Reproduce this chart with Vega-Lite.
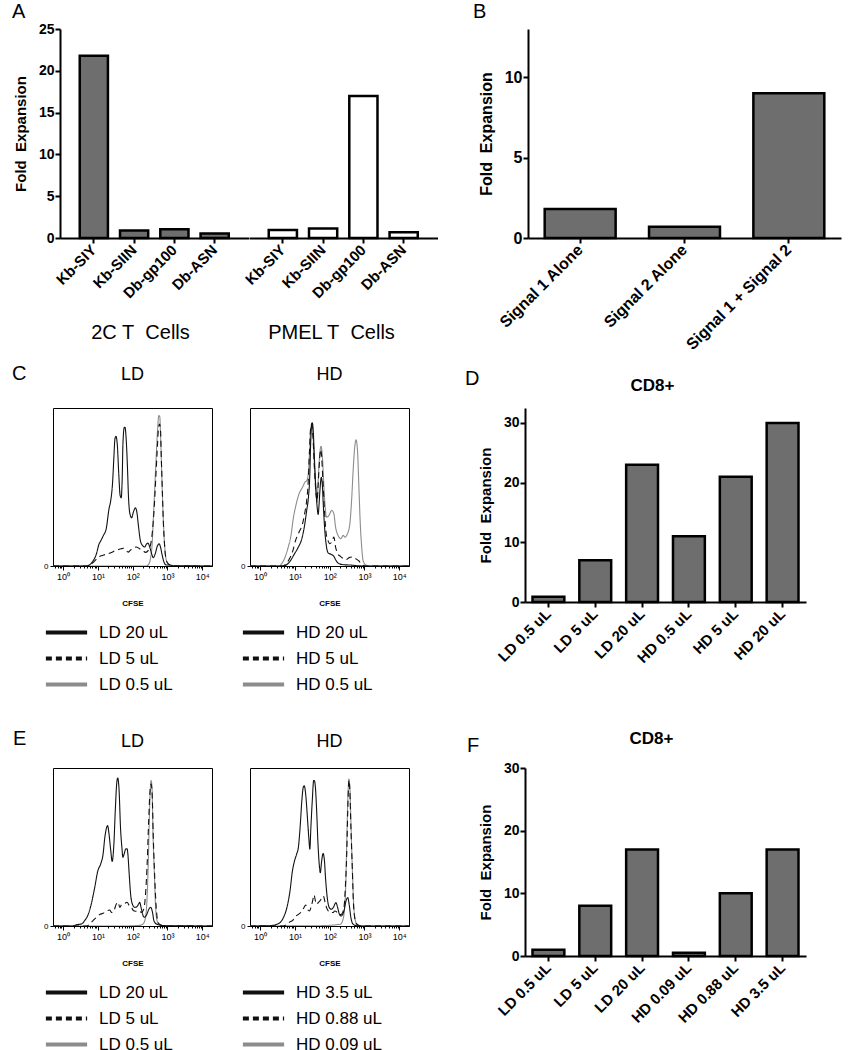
{
  "$schema": "https://vega.github.io/schema/vega-lite/v6.json",
  "background": "white",
  "padding": {"left": 12, "top": 2, "right": 2, "bottom": 2},
  "spacing": 11,
  "config": {
    "font": "Liberation Sans",
    "view": {"stroke": null},
    "axis": {"grid": false, "domainColor": "black", "tickColor": "black", "labelColor": "black", "titleColor": "black", "labelFont": "Liberation Sans", "titleFont": "Liberation Sans"},
    "title": {"color": "black", "font": "Liberation Sans"},
    "legend": {"labelColor": "black", "labelFont": "Liberation Sans", "symbolType": "M-10,0H10", "symbolSize": 17, "symbolStrokeWidth": 4, "labelFontSize": 17, "labelOffset": 24, "rowPadding": 8, "padding": 0, "labelLimit": 300}
  },
  "resolve": {"scale": {"x": "independent", "y": "independent", "color": "independent", "strokeDash": "independent"}, "legend": {"color": "independent", "strokeDash": "independent"}},
  "datasets": {
    "A": [
      {"group": "2C", "peptide": "Kb-SIY", "fold": 21.8},
      {"group": "2C", "peptide": "Kb-SIIN", "fold": 0.9},
      {"group": "2C", "peptide": "Db-gp100", "fold": 1.05},
      {"group": "2C", "peptide": "Db-ASN", "fold": 0.55},
      {"group": "PMEL", "peptide": "Kb-SIY", "fold": 0.95},
      {"group": "PMEL", "peptide": "Kb-SIIN", "fold": 1.15},
      {"group": "PMEL", "peptide": "Db-gp100", "fold": 17.0},
      {"group": "PMEL", "peptide": "Db-ASN", "fold": 0.7}
    ],
    "B": [
      {"condition": "Signal 1 Alone", "fold": 1.8},
      {"condition": "Signal 2 Alone", "fold": 0.7},
      {"condition": "Signal 1 + Signal 2", "fold": 9.0}
    ],
    "D": [
      {"dose": "LD 0.5 uL", "fold": 0.9},
      {"dose": "LD 5 uL", "fold": 7},
      {"dose": "LD 20 uL", "fold": 23},
      {"dose": "HD 0.5 uL", "fold": 11},
      {"dose": "HD 5 uL", "fold": 21},
      {"dose": "HD 20 uL", "fold": 30}
    ],
    "F": [
      {"dose": "LD 0.5 uL", "fold": 1},
      {"dose": "LD 5 uL", "fold": 8},
      {"dose": "LD 20 uL", "fold": 17},
      {"dose": "HD 0.09 uL", "fold": 0.5},
      {"dose": "HD 0.88 uL", "fold": 10},
      {"dose": "HD 3.5 uL", "fold": 17}
    ],
    "cLD": [
      {"sample": "LD 0.5 uL", "logCFSE": -0.29, "pctMax": 0},
      {"sample": "LD 0.5 uL", "logCFSE": 2.37, "pctMax": 0},
      {"sample": "LD 0.5 uL", "logCFSE": 2.45, "pctMax": 0.8},
      {"sample": "LD 0.5 uL", "logCFSE": 2.51, "pctMax": 4.6},
      {"sample": "LD 0.5 uL", "logCFSE": 2.56, "pctMax": 14.1},
      {"sample": "LD 0.5 uL", "logCFSE": 2.6, "pctMax": 33.1},
      {"sample": "LD 0.5 uL", "logCFSE": 2.64, "pctMax": 52},
      {"sample": "LD 0.5 uL", "logCFSE": 2.68, "pctMax": 70.9},
      {"sample": "LD 0.5 uL", "logCFSE": 2.72, "pctMax": 87.8},
      {"sample": "LD 0.5 uL", "logCFSE": 2.75, "pctMax": 95.2},
      {"sample": "LD 0.5 uL", "logCFSE": 2.78, "pctMax": 94.5},
      {"sample": "LD 0.5 uL", "logCFSE": 2.8, "pctMax": 83.6},
      {"sample": "LD 0.5 uL", "logCFSE": 2.83, "pctMax": 62.5},
      {"sample": "LD 0.5 uL", "logCFSE": 2.87, "pctMax": 35.2},
      {"sample": "LD 0.5 uL", "logCFSE": 2.91, "pctMax": 16.2},
      {"sample": "LD 0.5 uL", "logCFSE": 2.95, "pctMax": 5.7},
      {"sample": "LD 0.5 uL", "logCFSE": 3.0, "pctMax": 1.9},
      {"sample": "LD 0.5 uL", "logCFSE": 3.08, "pctMax": 0.4},
      {"sample": "LD 0.5 uL", "logCFSE": 3.2, "pctMax": 0},
      {"sample": "LD 0.5 uL", "logCFSE": 4.28, "pctMax": 0},
      {"sample": "LD 5 uL", "logCFSE": -0.29, "pctMax": 0},
      {"sample": "LD 5 uL", "logCFSE": 0.75, "pctMax": 0},
      {"sample": "LD 5 uL", "logCFSE": 0.81, "pctMax": 1.1},
      {"sample": "LD 5 uL", "logCFSE": 0.91, "pctMax": 3.2},
      {"sample": "LD 5 uL", "logCFSE": 1.0, "pctMax": 5.3},
      {"sample": "LD 5 uL", "logCFSE": 1.1, "pctMax": 6.5},
      {"sample": "LD 5 uL", "logCFSE": 1.2, "pctMax": 7.2},
      {"sample": "LD 5 uL", "logCFSE": 1.29, "pctMax": 7.8},
      {"sample": "LD 5 uL", "logCFSE": 1.39, "pctMax": 8.6},
      {"sample": "LD 5 uL", "logCFSE": 1.48, "pctMax": 9.5},
      {"sample": "LD 5 uL", "logCFSE": 1.58, "pctMax": 10.3},
      {"sample": "LD 5 uL", "logCFSE": 1.67, "pctMax": 10.9},
      {"sample": "LD 5 uL", "logCFSE": 1.74, "pctMax": 11.2},
      {"sample": "LD 5 uL", "logCFSE": 1.8, "pctMax": 10.3},
      {"sample": "LD 5 uL", "logCFSE": 1.87, "pctMax": 8.8},
      {"sample": "LD 5 uL", "logCFSE": 1.93, "pctMax": 9.9},
      {"sample": "LD 5 uL", "logCFSE": 2.01, "pctMax": 11.2},
      {"sample": "LD 5 uL", "logCFSE": 2.1, "pctMax": 12.0},
      {"sample": "LD 5 uL", "logCFSE": 2.2, "pctMax": 10.9},
      {"sample": "LD 5 uL", "logCFSE": 2.3, "pctMax": 9.5},
      {"sample": "LD 5 uL", "logCFSE": 2.37, "pctMax": 8.6},
      {"sample": "LD 5 uL", "logCFSE": 2.45, "pctMax": 9.9},
      {"sample": "LD 5 uL", "logCFSE": 2.52, "pctMax": 14.1},
      {"sample": "LD 5 uL", "logCFSE": 2.57, "pctMax": 22.5},
      {"sample": "LD 5 uL", "logCFSE": 2.62, "pctMax": 37.3},
      {"sample": "LD 5 uL", "logCFSE": 2.67, "pctMax": 58.3},
      {"sample": "LD 5 uL", "logCFSE": 2.71, "pctMax": 75.2},
      {"sample": "LD 5 uL", "logCFSE": 2.74, "pctMax": 86.7},
      {"sample": "LD 5 uL", "logCFSE": 2.77, "pctMax": 89.9},
      {"sample": "LD 5 uL", "logCFSE": 2.8, "pctMax": 86.7},
      {"sample": "LD 5 uL", "logCFSE": 2.82, "pctMax": 70.9},
      {"sample": "LD 5 uL", "logCFSE": 2.85, "pctMax": 49.9},
      {"sample": "LD 5 uL", "logCFSE": 2.88, "pctMax": 28.8},
      {"sample": "LD 5 uL", "logCFSE": 2.92, "pctMax": 12.0},
      {"sample": "LD 5 uL", "logCFSE": 2.96, "pctMax": 4.0},
      {"sample": "LD 5 uL", "logCFSE": 3.02, "pctMax": 1.5},
      {"sample": "LD 5 uL", "logCFSE": 3.11, "pctMax": 0.4},
      {"sample": "LD 5 uL", "logCFSE": 3.25, "pctMax": 0},
      {"sample": "LD 5 uL", "logCFSE": 4.28, "pctMax": 0},
      {"sample": "LD 20 uL", "logCFSE": -0.29, "pctMax": 0},
      {"sample": "LD 20 uL", "logCFSE": 0.67, "pctMax": 0},
      {"sample": "LD 20 uL", "logCFSE": 0.75, "pctMax": 0.6},
      {"sample": "LD 20 uL", "logCFSE": 0.86, "pctMax": 3.2},
      {"sample": "LD 20 uL", "logCFSE": 0.96, "pctMax": 7.8},
      {"sample": "LD 20 uL", "logCFSE": 1.03, "pctMax": 13.7},
      {"sample": "LD 20 uL", "logCFSE": 1.08, "pctMax": 15.8},
      {"sample": "LD 20 uL", "logCFSE": 1.16, "pctMax": 19.4},
      {"sample": "LD 20 uL", "logCFSE": 1.24, "pctMax": 23.6},
      {"sample": "LD 20 uL", "logCFSE": 1.32, "pctMax": 36.2},
      {"sample": "LD 20 uL", "logCFSE": 1.37, "pctMax": 41.5},
      {"sample": "LD 20 uL", "logCFSE": 1.42, "pctMax": 52},
      {"sample": "LD 20 uL", "logCFSE": 1.46, "pctMax": 68.8},
      {"sample": "LD 20 uL", "logCFSE": 1.49, "pctMax": 80.4},
      {"sample": "LD 20 uL", "logCFSE": 1.52, "pctMax": 82.1},
      {"sample": "LD 20 uL", "logCFSE": 1.56, "pctMax": 76.2},
      {"sample": "LD 20 uL", "logCFSE": 1.6, "pctMax": 58.3},
      {"sample": "LD 20 uL", "logCFSE": 1.64, "pctMax": 44.6},
      {"sample": "LD 20 uL", "logCFSE": 1.67, "pctMax": 43.2},
      {"sample": "LD 20 uL", "logCFSE": 1.7, "pctMax": 56.2},
      {"sample": "LD 20 uL", "logCFSE": 1.72, "pctMax": 77.3},
      {"sample": "LD 20 uL", "logCFSE": 1.76, "pctMax": 87.8},
      {"sample": "LD 20 uL", "logCFSE": 1.78, "pctMax": 87.8},
      {"sample": "LD 20 uL", "logCFSE": 1.81, "pctMax": 81.5},
      {"sample": "LD 20 uL", "logCFSE": 1.85, "pctMax": 62.5},
      {"sample": "LD 20 uL", "logCFSE": 1.88, "pctMax": 43.6},
      {"sample": "LD 20 uL", "logCFSE": 1.92, "pctMax": 33.1},
      {"sample": "LD 20 uL", "logCFSE": 1.97, "pctMax": 30.5},
      {"sample": "LD 20 uL", "logCFSE": 2.02, "pctMax": 34.1},
      {"sample": "LD 20 uL", "logCFSE": 2.08, "pctMax": 36.8},
      {"sample": "LD 20 uL", "logCFSE": 2.12, "pctMax": 34.1},
      {"sample": "LD 20 uL", "logCFSE": 2.17, "pctMax": 24.6},
      {"sample": "LD 20 uL", "logCFSE": 2.22, "pctMax": 16.2},
      {"sample": "LD 20 uL", "logCFSE": 2.28, "pctMax": 13.1},
      {"sample": "LD 20 uL", "logCFSE": 2.35, "pctMax": 12.0},
      {"sample": "LD 20 uL", "logCFSE": 2.39, "pctMax": 13.7},
      {"sample": "LD 20 uL", "logCFSE": 2.44, "pctMax": 14.5},
      {"sample": "LD 20 uL", "logCFSE": 2.49, "pctMax": 12.0},
      {"sample": "LD 20 uL", "logCFSE": 2.55, "pctMax": 7.4},
      {"sample": "LD 20 uL", "logCFSE": 2.59, "pctMax": 5.3},
      {"sample": "LD 20 uL", "logCFSE": 2.65, "pctMax": 7.8},
      {"sample": "LD 20 uL", "logCFSE": 2.7, "pctMax": 12.0},
      {"sample": "LD 20 uL", "logCFSE": 2.76, "pctMax": 14.1},
      {"sample": "LD 20 uL", "logCFSE": 2.8, "pctMax": 12.0},
      {"sample": "LD 20 uL", "logCFSE": 2.85, "pctMax": 6.7},
      {"sample": "LD 20 uL", "logCFSE": 2.91, "pctMax": 1.9},
      {"sample": "LD 20 uL", "logCFSE": 2.97, "pctMax": 0.6},
      {"sample": "LD 20 uL", "logCFSE": 3.08, "pctMax": 0.6},
      {"sample": "LD 20 uL", "logCFSE": 3.16, "pctMax": 0.2},
      {"sample": "LD 20 uL", "logCFSE": 4.28, "pctMax": 0}
    ],
    "cHD": [
      {"sample": "HD 0.5 uL", "logCFSE": -0.29, "pctMax": 0},
      {"sample": "HD 0.5 uL", "logCFSE": 0.55, "pctMax": 0},
      {"sample": "HD 0.5 uL", "logCFSE": 0.62, "pctMax": 1.5},
      {"sample": "HD 0.5 uL", "logCFSE": 0.72, "pctMax": 5.7},
      {"sample": "HD 0.5 uL", "logCFSE": 0.81, "pctMax": 12.0},
      {"sample": "HD 0.5 uL", "logCFSE": 0.88, "pctMax": 18.3},
      {"sample": "HD 0.5 uL", "logCFSE": 0.96, "pctMax": 30.9},
      {"sample": "HD 0.5 uL", "logCFSE": 1.04, "pctMax": 39.4},
      {"sample": "HD 0.5 uL", "logCFSE": 1.12, "pctMax": 45.7},
      {"sample": "HD 0.5 uL", "logCFSE": 1.22, "pctMax": 49.9},
      {"sample": "HD 0.5 uL", "logCFSE": 1.29, "pctMax": 53.1},
      {"sample": "HD 0.5 uL", "logCFSE": 1.34, "pctMax": 54.1},
      {"sample": "HD 0.5 uL", "logCFSE": 1.38, "pctMax": 57.3},
      {"sample": "HD 0.5 uL", "logCFSE": 1.42, "pctMax": 70.9},
      {"sample": "HD 0.5 uL", "logCFSE": 1.45, "pctMax": 85.7},
      {"sample": "HD 0.5 uL", "logCFSE": 1.49, "pctMax": 90.3},
      {"sample": "HD 0.5 uL", "logCFSE": 1.52, "pctMax": 83.6},
      {"sample": "HD 0.5 uL", "logCFSE": 1.56, "pctMax": 64.6},
      {"sample": "HD 0.5 uL", "logCFSE": 1.6, "pctMax": 49.9},
      {"sample": "HD 0.5 uL", "logCFSE": 1.64, "pctMax": 40.4},
      {"sample": "HD 0.5 uL", "logCFSE": 1.67, "pctMax": 54.1},
      {"sample": "HD 0.5 uL", "logCFSE": 1.71, "pctMax": 69.5},
      {"sample": "HD 0.5 uL", "logCFSE": 1.75, "pctMax": 75.8},
      {"sample": "HD 0.5 uL", "logCFSE": 1.79, "pctMax": 69.5},
      {"sample": "HD 0.5 uL", "logCFSE": 1.83, "pctMax": 52},
      {"sample": "HD 0.5 uL", "logCFSE": 1.87, "pctMax": 37.3},
      {"sample": "HD 0.5 uL", "logCFSE": 1.91, "pctMax": 30.9},
      {"sample": "HD 0.5 uL", "logCFSE": 1.98, "pctMax": 32.0},
      {"sample": "HD 0.5 uL", "logCFSE": 2.06, "pctMax": 35.2},
      {"sample": "HD 0.5 uL", "logCFSE": 2.12, "pctMax": 33.1},
      {"sample": "HD 0.5 uL", "logCFSE": 2.17, "pctMax": 24.6},
      {"sample": "HD 0.5 uL", "logCFSE": 2.24, "pctMax": 19.4},
      {"sample": "HD 0.5 uL", "logCFSE": 2.32, "pctMax": 17.3},
      {"sample": "HD 0.5 uL", "logCFSE": 2.39, "pctMax": 19.4},
      {"sample": "HD 0.5 uL", "logCFSE": 2.44, "pctMax": 18.3},
      {"sample": "HD 0.5 uL", "logCFSE": 2.51, "pctMax": 20.4},
      {"sample": "HD 0.5 uL", "logCFSE": 2.58, "pctMax": 26.7},
      {"sample": "HD 0.5 uL", "logCFSE": 2.63, "pctMax": 41.5},
      {"sample": "HD 0.5 uL", "logCFSE": 2.68, "pctMax": 62.5},
      {"sample": "HD 0.5 uL", "logCFSE": 2.72, "pctMax": 75.2},
      {"sample": "HD 0.5 uL", "logCFSE": 2.76, "pctMax": 79.8},
      {"sample": "HD 0.5 uL", "logCFSE": 2.8, "pctMax": 73.1},
      {"sample": "HD 0.5 uL", "logCFSE": 2.84, "pctMax": 49.9},
      {"sample": "HD 0.5 uL", "logCFSE": 2.88, "pctMax": 26.7},
      {"sample": "HD 0.5 uL", "logCFSE": 2.92, "pctMax": 12.0},
      {"sample": "HD 0.5 uL", "logCFSE": 2.96, "pctMax": 3.6},
      {"sample": "HD 0.5 uL", "logCFSE": 3.03, "pctMax": 0.8},
      {"sample": "HD 0.5 uL", "logCFSE": 3.15, "pctMax": 0},
      {"sample": "HD 0.5 uL", "logCFSE": 4.28, "pctMax": 0},
      {"sample": "HD 5 uL", "logCFSE": -0.29, "pctMax": 0},
      {"sample": "HD 5 uL", "logCFSE": 0.64, "pctMax": 0},
      {"sample": "HD 5 uL", "logCFSE": 0.74, "pctMax": 1.1},
      {"sample": "HD 5 uL", "logCFSE": 0.83, "pctMax": 4.0},
      {"sample": "HD 5 uL", "logCFSE": 0.93, "pctMax": 8.8},
      {"sample": "HD 5 uL", "logCFSE": 1.02, "pctMax": 16.2},
      {"sample": "HD 5 uL", "logCFSE": 1.12, "pctMax": 21.5},
      {"sample": "HD 5 uL", "logCFSE": 1.22, "pctMax": 26.7},
      {"sample": "HD 5 uL", "logCFSE": 1.28, "pctMax": 33.1},
      {"sample": "HD 5 uL", "logCFSE": 1.34, "pctMax": 41.5},
      {"sample": "HD 5 uL", "logCFSE": 1.38, "pctMax": 52},
      {"sample": "HD 5 uL", "logCFSE": 1.42, "pctMax": 73.1},
      {"sample": "HD 5 uL", "logCFSE": 1.45, "pctMax": 86.7},
      {"sample": "HD 5 uL", "logCFSE": 1.48, "pctMax": 89.9},
      {"sample": "HD 5 uL", "logCFSE": 1.52, "pctMax": 81.5},
      {"sample": "HD 5 uL", "logCFSE": 1.56, "pctMax": 62.5},
      {"sample": "HD 5 uL", "logCFSE": 1.6, "pctMax": 47.8},
      {"sample": "HD 5 uL", "logCFSE": 1.64, "pctMax": 41.5},
      {"sample": "HD 5 uL", "logCFSE": 1.67, "pctMax": 52},
      {"sample": "HD 5 uL", "logCFSE": 1.71, "pctMax": 67.4},
      {"sample": "HD 5 uL", "logCFSE": 1.74, "pctMax": 73.7},
      {"sample": "HD 5 uL", "logCFSE": 1.77, "pctMax": 68.8},
      {"sample": "HD 5 uL", "logCFSE": 1.81, "pctMax": 52},
      {"sample": "HD 5 uL", "logCFSE": 1.85, "pctMax": 35.2},
      {"sample": "HD 5 uL", "logCFSE": 1.9, "pctMax": 20.4},
      {"sample": "HD 5 uL", "logCFSE": 1.95, "pctMax": 16.2},
      {"sample": "HD 5 uL", "logCFSE": 2.0, "pctMax": 14.1},
      {"sample": "HD 5 uL", "logCFSE": 2.06, "pctMax": 15.2},
      {"sample": "HD 5 uL", "logCFSE": 2.12, "pctMax": 18.3},
      {"sample": "HD 5 uL", "logCFSE": 2.17, "pctMax": 12.0},
      {"sample": "HD 5 uL", "logCFSE": 2.23, "pctMax": 7.8},
      {"sample": "HD 5 uL", "logCFSE": 2.31, "pctMax": 6.1},
      {"sample": "HD 5 uL", "logCFSE": 2.4, "pctMax": 4.6},
      {"sample": "HD 5 uL", "logCFSE": 2.47, "pctMax": 4.0},
      {"sample": "HD 5 uL", "logCFSE": 2.56, "pctMax": 5.3},
      {"sample": "HD 5 uL", "logCFSE": 2.65, "pctMax": 5.7},
      {"sample": "HD 5 uL", "logCFSE": 2.75, "pctMax": 4.6},
      {"sample": "HD 5 uL", "logCFSE": 2.84, "pctMax": 3.2},
      {"sample": "HD 5 uL", "logCFSE": 2.91, "pctMax": 1.1},
      {"sample": "HD 5 uL", "logCFSE": 3.03, "pctMax": 0},
      {"sample": "HD 5 uL", "logCFSE": 4.28, "pctMax": 0},
      {"sample": "HD 20 uL", "logCFSE": -0.29, "pctMax": 0},
      {"sample": "HD 20 uL", "logCFSE": 0.69, "pctMax": 0},
      {"sample": "HD 20 uL", "logCFSE": 0.78, "pctMax": 1.1},
      {"sample": "HD 20 uL", "logCFSE": 0.88, "pctMax": 3.6},
      {"sample": "HD 20 uL", "logCFSE": 0.98, "pctMax": 7.4},
      {"sample": "HD 20 uL", "logCFSE": 1.1, "pctMax": 12.0},
      {"sample": "HD 20 uL", "logCFSE": 1.2, "pctMax": 17.3},
      {"sample": "HD 20 uL", "logCFSE": 1.27, "pctMax": 24.6},
      {"sample": "HD 20 uL", "logCFSE": 1.34, "pctMax": 35.2},
      {"sample": "HD 20 uL", "logCFSE": 1.39, "pctMax": 43.6},
      {"sample": "HD 20 uL", "logCFSE": 1.43, "pctMax": 58.3},
      {"sample": "HD 20 uL", "logCFSE": 1.45, "pctMax": 75.2},
      {"sample": "HD 20 uL", "logCFSE": 1.48, "pctMax": 88.8},
      {"sample": "HD 20 uL", "logCFSE": 1.5, "pctMax": 90.7},
      {"sample": "HD 20 uL", "logCFSE": 1.53, "pctMax": 84.6},
      {"sample": "HD 20 uL", "logCFSE": 1.56, "pctMax": 68.8},
      {"sample": "HD 20 uL", "logCFSE": 1.6, "pctMax": 49.9},
      {"sample": "HD 20 uL", "logCFSE": 1.64, "pctMax": 37.3},
      {"sample": "HD 20 uL", "logCFSE": 1.67, "pctMax": 32.6},
      {"sample": "HD 20 uL", "logCFSE": 1.69, "pctMax": 37.3},
      {"sample": "HD 20 uL", "logCFSE": 1.72, "pctMax": 47.8},
      {"sample": "HD 20 uL", "logCFSE": 1.76, "pctMax": 56.2},
      {"sample": "HD 20 uL", "logCFSE": 1.79, "pctMax": 50.9},
      {"sample": "HD 20 uL", "logCFSE": 1.82, "pctMax": 37.3},
      {"sample": "HD 20 uL", "logCFSE": 1.86, "pctMax": 22.5},
      {"sample": "HD 20 uL", "logCFSE": 1.91, "pctMax": 12.0},
      {"sample": "HD 20 uL", "logCFSE": 1.96, "pctMax": 8.2},
      {"sample": "HD 20 uL", "logCFSE": 2.04, "pctMax": 7.4},
      {"sample": "HD 20 uL", "logCFSE": 2.12, "pctMax": 6.1},
      {"sample": "HD 20 uL", "logCFSE": 2.19, "pctMax": 3.2},
      {"sample": "HD 20 uL", "logCFSE": 2.27, "pctMax": 1.5},
      {"sample": "HD 20 uL", "logCFSE": 2.41, "pctMax": 0.8},
      {"sample": "HD 20 uL", "logCFSE": 2.6, "pctMax": 0.6},
      {"sample": "HD 20 uL", "logCFSE": 2.79, "pctMax": 0.2},
      {"sample": "HD 20 uL", "logCFSE": 3.03, "pctMax": 0},
      {"sample": "HD 20 uL", "logCFSE": 4.28, "pctMax": 0}
    ],
    "eLD": [
      {"sample": "LD 0.5 uL", "logCFSE": -0.29, "pctMax": 0},
      {"sample": "LD 0.5 uL", "logCFSE": 1.72, "pctMax": 0},
      {"sample": "LD 0.5 uL", "logCFSE": 2.2, "pctMax": 0.4},
      {"sample": "LD 0.5 uL", "logCFSE": 2.3, "pctMax": 1.3},
      {"sample": "LD 0.5 uL", "logCFSE": 2.37, "pctMax": 5.5},
      {"sample": "LD 0.5 uL", "logCFSE": 2.41, "pctMax": 16.0},
      {"sample": "LD 0.5 uL", "logCFSE": 2.45, "pctMax": 41.4},
      {"sample": "LD 0.5 uL", "logCFSE": 2.48, "pctMax": 68.8},
      {"sample": "LD 0.5 uL", "logCFSE": 2.51, "pctMax": 87.8},
      {"sample": "LD 0.5 uL", "logCFSE": 2.53, "pctMax": 92.0},
      {"sample": "LD 0.5 uL", "logCFSE": 2.56, "pctMax": 85.7},
      {"sample": "LD 0.5 uL", "logCFSE": 2.58, "pctMax": 62.5},
      {"sample": "LD 0.5 uL", "logCFSE": 2.62, "pctMax": 35.0},
      {"sample": "LD 0.5 uL", "logCFSE": 2.66, "pctMax": 11.8},
      {"sample": "LD 0.5 uL", "logCFSE": 2.7, "pctMax": 3.4},
      {"sample": "LD 0.5 uL", "logCFSE": 2.76, "pctMax": 0.8},
      {"sample": "LD 0.5 uL", "logCFSE": 2.87, "pctMax": 0},
      {"sample": "LD 0.5 uL", "logCFSE": 4.28, "pctMax": 0},
      {"sample": "LD 5 uL", "logCFSE": -0.29, "pctMax": 0},
      {"sample": "LD 5 uL", "logCFSE": 0.67, "pctMax": 0},
      {"sample": "LD 5 uL", "logCFSE": 0.77, "pctMax": 1.3},
      {"sample": "LD 5 uL", "logCFSE": 0.84, "pctMax": 3.0},
      {"sample": "LD 5 uL", "logCFSE": 0.96, "pctMax": 5.5},
      {"sample": "LD 5 uL", "logCFSE": 1.05, "pctMax": 7.2},
      {"sample": "LD 5 uL", "logCFSE": 1.15, "pctMax": 8.0},
      {"sample": "LD 5 uL", "logCFSE": 1.24, "pctMax": 9.3},
      {"sample": "LD 5 uL", "logCFSE": 1.34, "pctMax": 10.1},
      {"sample": "LD 5 uL", "logCFSE": 1.39, "pctMax": 8.6},
      {"sample": "LD 5 uL", "logCFSE": 1.46, "pctMax": 9.7},
      {"sample": "LD 5 uL", "logCFSE": 1.53, "pctMax": 13.9},
      {"sample": "LD 5 uL", "logCFSE": 1.58, "pctMax": 15.0},
      {"sample": "LD 5 uL", "logCFSE": 1.63, "pctMax": 11.8},
      {"sample": "LD 5 uL", "logCFSE": 1.68, "pctMax": 13.5},
      {"sample": "LD 5 uL", "logCFSE": 1.77, "pctMax": 14.3},
      {"sample": "LD 5 uL", "logCFSE": 1.84, "pctMax": 15.0},
      {"sample": "LD 5 uL", "logCFSE": 1.9, "pctMax": 12.9},
      {"sample": "LD 5 uL", "logCFSE": 1.96, "pctMax": 11.8},
      {"sample": "LD 5 uL", "logCFSE": 2.03, "pctMax": 9.7},
      {"sample": "LD 5 uL", "logCFSE": 2.11, "pctMax": 9.3},
      {"sample": "LD 5 uL", "logCFSE": 2.18, "pctMax": 9.7},
      {"sample": "LD 5 uL", "logCFSE": 2.25, "pctMax": 8.6},
      {"sample": "LD 5 uL", "logCFSE": 2.32, "pctMax": 10.8},
      {"sample": "LD 5 uL", "logCFSE": 2.37, "pctMax": 20.3},
      {"sample": "LD 5 uL", "logCFSE": 2.42, "pctMax": 41.4},
      {"sample": "LD 5 uL", "logCFSE": 2.46, "pctMax": 66.7},
      {"sample": "LD 5 uL", "logCFSE": 2.5, "pctMax": 85.7},
      {"sample": "LD 5 uL", "logCFSE": 2.53, "pctMax": 89.9},
      {"sample": "LD 5 uL", "logCFSE": 2.56, "pctMax": 83.5},
      {"sample": "LD 5 uL", "logCFSE": 2.59, "pctMax": 58.2},
      {"sample": "LD 5 uL", "logCFSE": 2.63, "pctMax": 32.9},
      {"sample": "LD 5 uL", "logCFSE": 2.67, "pctMax": 13.9},
      {"sample": "LD 5 uL", "logCFSE": 2.71, "pctMax": 4.4},
      {"sample": "LD 5 uL", "logCFSE": 2.76, "pctMax": 1.3},
      {"sample": "LD 5 uL", "logCFSE": 2.87, "pctMax": 0.2},
      {"sample": "LD 5 uL", "logCFSE": 3.0, "pctMax": 0},
      {"sample": "LD 5 uL", "logCFSE": 4.28, "pctMax": 0},
      {"sample": "LD 20 uL", "logCFSE": -0.29, "pctMax": 0},
      {"sample": "LD 20 uL", "logCFSE": 0.29, "pctMax": 0},
      {"sample": "LD 20 uL", "logCFSE": 0.38, "pctMax": 0.8},
      {"sample": "LD 20 uL", "logCFSE": 0.53, "pctMax": 1.3},
      {"sample": "LD 20 uL", "logCFSE": 0.62, "pctMax": 3.4},
      {"sample": "LD 20 uL", "logCFSE": 0.72, "pctMax": 7.2},
      {"sample": "LD 20 uL", "logCFSE": 0.81, "pctMax": 13.9},
      {"sample": "LD 20 uL", "logCFSE": 0.91, "pctMax": 24.5},
      {"sample": "LD 20 uL", "logCFSE": 1.0, "pctMax": 35.0},
      {"sample": "LD 20 uL", "logCFSE": 1.08, "pctMax": 39.2},
      {"sample": "LD 20 uL", "logCFSE": 1.15, "pctMax": 45.6},
      {"sample": "LD 20 uL", "logCFSE": 1.2, "pctMax": 56.1},
      {"sample": "LD 20 uL", "logCFSE": 1.24, "pctMax": 61.4},
      {"sample": "LD 20 uL", "logCFSE": 1.28, "pctMax": 63.5},
      {"sample": "LD 20 uL", "logCFSE": 1.32, "pctMax": 58.2},
      {"sample": "LD 20 uL", "logCFSE": 1.37, "pctMax": 47.7},
      {"sample": "LD 20 uL", "logCFSE": 1.41, "pctMax": 40.9},
      {"sample": "LD 20 uL", "logCFSE": 1.46, "pctMax": 51.9},
      {"sample": "LD 20 uL", "logCFSE": 1.5, "pctMax": 73.0},
      {"sample": "LD 20 uL", "logCFSE": 1.54, "pctMax": 89.9},
      {"sample": "LD 20 uL", "logCFSE": 1.57, "pctMax": 93.7},
      {"sample": "LD 20 uL", "logCFSE": 1.61, "pctMax": 85.7},
      {"sample": "LD 20 uL", "logCFSE": 1.65, "pctMax": 62.4},
      {"sample": "LD 20 uL", "logCFSE": 1.69, "pctMax": 49.8},
      {"sample": "LD 20 uL", "logCFSE": 1.72, "pctMax": 43.5},
      {"sample": "LD 20 uL", "logCFSE": 1.76, "pctMax": 46.0},
      {"sample": "LD 20 uL", "logCFSE": 1.8, "pctMax": 48.7},
      {"sample": "LD 20 uL", "logCFSE": 1.84, "pctMax": 48.9},
      {"sample": "LD 20 uL", "logCFSE": 1.86, "pctMax": 46.0},
      {"sample": "LD 20 uL", "logCFSE": 1.9, "pctMax": 32.9},
      {"sample": "LD 20 uL", "logCFSE": 1.94, "pctMax": 20.3},
      {"sample": "LD 20 uL", "logCFSE": 1.99, "pctMax": 13.9},
      {"sample": "LD 20 uL", "logCFSE": 2.06, "pctMax": 11.8},
      {"sample": "LD 20 uL", "logCFSE": 2.12, "pctMax": 12.2},
      {"sample": "LD 20 uL", "logCFSE": 2.18, "pctMax": 14.3},
      {"sample": "LD 20 uL", "logCFSE": 2.2, "pctMax": 15.0},
      {"sample": "LD 20 uL", "logCFSE": 2.25, "pctMax": 10.8},
      {"sample": "LD 20 uL", "logCFSE": 2.3, "pctMax": 6.5},
      {"sample": "LD 20 uL", "logCFSE": 2.34, "pctMax": 5.5},
      {"sample": "LD 20 uL", "logCFSE": 2.41, "pctMax": 7.6},
      {"sample": "LD 20 uL", "logCFSE": 2.47, "pctMax": 10.8},
      {"sample": "LD 20 uL", "logCFSE": 2.52, "pctMax": 11.8},
      {"sample": "LD 20 uL", "logCFSE": 2.57, "pctMax": 8.6},
      {"sample": "LD 20 uL", "logCFSE": 2.61, "pctMax": 3.4},
      {"sample": "LD 20 uL", "logCFSE": 2.68, "pctMax": 1.3},
      {"sample": "LD 20 uL", "logCFSE": 2.78, "pctMax": 0.6},
      {"sample": "LD 20 uL", "logCFSE": 2.97, "pctMax": 0.2},
      {"sample": "LD 20 uL", "logCFSE": 4.28, "pctMax": 0}
    ],
    "eHD": [
      {"sample": "HD 0.09 uL", "logCFSE": -0.29, "pctMax": 0},
      {"sample": "HD 0.09 uL", "logCFSE": 1.72, "pctMax": 0.2},
      {"sample": "HD 0.09 uL", "logCFSE": 2.3, "pctMax": 1.1},
      {"sample": "HD 0.09 uL", "logCFSE": 2.37, "pctMax": 3.2},
      {"sample": "HD 0.09 uL", "logCFSE": 2.42, "pctMax": 9.5},
      {"sample": "HD 0.09 uL", "logCFSE": 2.46, "pctMax": 24.3},
      {"sample": "HD 0.09 uL", "logCFSE": 2.49, "pctMax": 51.8},
      {"sample": "HD 0.09 uL", "logCFSE": 2.52, "pctMax": 79.3},
      {"sample": "HD 0.09 uL", "logCFSE": 2.54, "pctMax": 89.9},
      {"sample": "HD 0.09 uL", "logCFSE": 2.55, "pctMax": 93.0},
      {"sample": "HD 0.09 uL", "logCFSE": 2.58, "pctMax": 87.7},
      {"sample": "HD 0.09 uL", "logCFSE": 2.61, "pctMax": 66.6},
      {"sample": "HD 0.09 uL", "logCFSE": 2.65, "pctMax": 37.0},
      {"sample": "HD 0.09 uL", "logCFSE": 2.69, "pctMax": 13.7},
      {"sample": "HD 0.09 uL", "logCFSE": 2.74, "pctMax": 3.2},
      {"sample": "HD 0.09 uL", "logCFSE": 2.79, "pctMax": 0.6},
      {"sample": "HD 0.09 uL", "logCFSE": 2.92, "pctMax": 0},
      {"sample": "HD 0.09 uL", "logCFSE": 4.28, "pctMax": 0},
      {"sample": "HD 0.88 uL", "logCFSE": -0.29, "pctMax": 0},
      {"sample": "HD 0.88 uL", "logCFSE": 0.67, "pctMax": 0},
      {"sample": "HD 0.88 uL", "logCFSE": 0.77, "pctMax": 1.1},
      {"sample": "HD 0.88 uL", "logCFSE": 0.84, "pctMax": 2.3},
      {"sample": "HD 0.88 uL", "logCFSE": 0.94, "pctMax": 3.6},
      {"sample": "HD 0.88 uL", "logCFSE": 1.03, "pctMax": 6.3},
      {"sample": "HD 0.88 uL", "logCFSE": 1.13, "pctMax": 7.8},
      {"sample": "HD 0.88 uL", "logCFSE": 1.21, "pctMax": 9.5},
      {"sample": "HD 0.88 uL", "logCFSE": 1.26, "pctMax": 11.6},
      {"sample": "HD 0.88 uL", "logCFSE": 1.31, "pctMax": 13.3},
      {"sample": "HD 0.88 uL", "logCFSE": 1.36, "pctMax": 10.6},
      {"sample": "HD 0.88 uL", "logCFSE": 1.42, "pctMax": 9.5},
      {"sample": "HD 0.88 uL", "logCFSE": 1.46, "pctMax": 11.6},
      {"sample": "HD 0.88 uL", "logCFSE": 1.51, "pctMax": 15.9},
      {"sample": "HD 0.88 uL", "logCFSE": 1.55, "pctMax": 19.7},
      {"sample": "HD 0.88 uL", "logCFSE": 1.59, "pctMax": 15.9},
      {"sample": "HD 0.88 uL", "logCFSE": 1.63, "pctMax": 13.7},
      {"sample": "HD 0.88 uL", "logCFSE": 1.67, "pctMax": 14.8},
      {"sample": "HD 0.88 uL", "logCFSE": 1.72, "pctMax": 15.9},
      {"sample": "HD 0.88 uL", "logCFSE": 1.78, "pctMax": 18.0},
      {"sample": "HD 0.88 uL", "logCFSE": 1.82, "pctMax": 19.0},
      {"sample": "HD 0.88 uL", "logCFSE": 1.87, "pctMax": 14.8},
      {"sample": "HD 0.88 uL", "logCFSE": 1.91, "pctMax": 11.6},
      {"sample": "HD 0.88 uL", "logCFSE": 1.96, "pctMax": 9.5},
      {"sample": "HD 0.88 uL", "logCFSE": 2.01, "pctMax": 8.5},
      {"sample": "HD 0.88 uL", "logCFSE": 2.09, "pctMax": 8.5},
      {"sample": "HD 0.88 uL", "logCFSE": 2.15, "pctMax": 9.5},
      {"sample": "HD 0.88 uL", "logCFSE": 2.22, "pctMax": 8.5},
      {"sample": "HD 0.88 uL", "logCFSE": 2.28, "pctMax": 7.0},
      {"sample": "HD 0.88 uL", "logCFSE": 2.34, "pctMax": 7.4},
      {"sample": "HD 0.88 uL", "logCFSE": 2.41, "pctMax": 11.6},
      {"sample": "HD 0.88 uL", "logCFSE": 2.45, "pctMax": 24.3},
      {"sample": "HD 0.88 uL", "logCFSE": 2.49, "pctMax": 45.5},
      {"sample": "HD 0.88 uL", "logCFSE": 2.52, "pctMax": 72.9},
      {"sample": "HD 0.88 uL", "logCFSE": 2.54, "pctMax": 87.7},
      {"sample": "HD 0.88 uL", "logCFSE": 2.555, "pctMax": 92.4},
      {"sample": "HD 0.88 uL", "logCFSE": 2.58, "pctMax": 85.6},
      {"sample": "HD 0.88 uL", "logCFSE": 2.61, "pctMax": 62.4},
      {"sample": "HD 0.88 uL", "logCFSE": 2.65, "pctMax": 37.0},
      {"sample": "HD 0.88 uL", "logCFSE": 2.68, "pctMax": 15.9},
      {"sample": "HD 0.88 uL", "logCFSE": 2.72, "pctMax": 5.3},
      {"sample": "HD 0.88 uL", "logCFSE": 2.77, "pctMax": 1.5},
      {"sample": "HD 0.88 uL", "logCFSE": 2.87, "pctMax": 0.2},
      {"sample": "HD 0.88 uL", "logCFSE": 3.0, "pctMax": 0},
      {"sample": "HD 0.88 uL", "logCFSE": 4.28, "pctMax": 0},
      {"sample": "HD 3.5 uL", "logCFSE": -0.29, "pctMax": 0},
      {"sample": "HD 3.5 uL", "logCFSE": 0.29, "pctMax": 0.2},
      {"sample": "HD 3.5 uL", "logCFSE": 0.48, "pctMax": 1.1},
      {"sample": "HD 3.5 uL", "logCFSE": 0.57, "pctMax": 2.1},
      {"sample": "HD 3.5 uL", "logCFSE": 0.67, "pctMax": 5.3},
      {"sample": "HD 3.5 uL", "logCFSE": 0.77, "pctMax": 11.6},
      {"sample": "HD 3.5 uL", "logCFSE": 0.86, "pctMax": 22.2},
      {"sample": "HD 3.5 uL", "logCFSE": 0.93, "pctMax": 34.9},
      {"sample": "HD 3.5 uL", "logCFSE": 0.99, "pctMax": 41.2},
      {"sample": "HD 3.5 uL", "logCFSE": 1.05, "pctMax": 45.5},
      {"sample": "HD 3.5 uL", "logCFSE": 1.1, "pctMax": 49.7},
      {"sample": "HD 3.5 uL", "logCFSE": 1.15, "pctMax": 62.4},
      {"sample": "HD 3.5 uL", "logCFSE": 1.2, "pctMax": 79.3},
      {"sample": "HD 3.5 uL", "logCFSE": 1.24, "pctMax": 87.7},
      {"sample": "HD 3.5 uL", "logCFSE": 1.27, "pctMax": 88.8},
      {"sample": "HD 3.5 uL", "logCFSE": 1.31, "pctMax": 83.5},
      {"sample": "HD 3.5 uL", "logCFSE": 1.36, "pctMax": 68.7},
      {"sample": "HD 3.5 uL", "logCFSE": 1.4, "pctMax": 56.0},
      {"sample": "HD 3.5 uL", "logCFSE": 1.43, "pctMax": 48.6},
      {"sample": "HD 3.5 uL", "logCFSE": 1.46, "pctMax": 62.4},
      {"sample": "HD 3.5 uL", "logCFSE": 1.5, "pctMax": 79.3},
      {"sample": "HD 3.5 uL", "logCFSE": 1.54, "pctMax": 92.0},
      {"sample": "HD 3.5 uL", "logCFSE": 1.56, "pctMax": 92.0},
      {"sample": "HD 3.5 uL", "logCFSE": 1.59, "pctMax": 87.7},
      {"sample": "HD 3.5 uL", "logCFSE": 1.63, "pctMax": 70.8},
      {"sample": "HD 3.5 uL", "logCFSE": 1.66, "pctMax": 53.9},
      {"sample": "HD 3.5 uL", "logCFSE": 1.7, "pctMax": 39.1},
      {"sample": "HD 3.5 uL", "logCFSE": 1.73, "pctMax": 33.8},
      {"sample": "HD 3.5 uL", "logCFSE": 1.77, "pctMax": 41.2},
      {"sample": "HD 3.5 uL", "logCFSE": 1.81, "pctMax": 45.9},
      {"sample": "HD 3.5 uL", "logCFSE": 1.85, "pctMax": 41.2},
      {"sample": "HD 3.5 uL", "logCFSE": 1.88, "pctMax": 30.7},
      {"sample": "HD 3.5 uL", "logCFSE": 1.93, "pctMax": 18.0},
      {"sample": "HD 3.5 uL", "logCFSE": 1.99, "pctMax": 11.6},
      {"sample": "HD 3.5 uL", "logCFSE": 2.05, "pctMax": 10.6},
      {"sample": "HD 3.5 uL", "logCFSE": 2.1, "pctMax": 11.6},
      {"sample": "HD 3.5 uL", "logCFSE": 2.18, "pctMax": 14.8},
      {"sample": "HD 3.5 uL", "logCFSE": 2.23, "pctMax": 11.6},
      {"sample": "HD 3.5 uL", "logCFSE": 2.28, "pctMax": 7.4},
      {"sample": "HD 3.5 uL", "logCFSE": 2.33, "pctMax": 6.3},
      {"sample": "HD 3.5 uL", "logCFSE": 2.41, "pctMax": 9.5},
      {"sample": "HD 3.5 uL", "logCFSE": 2.47, "pctMax": 15.9},
      {"sample": "HD 3.5 uL", "logCFSE": 2.52, "pctMax": 18.0},
      {"sample": "HD 3.5 uL", "logCFSE": 2.56, "pctMax": 13.7},
      {"sample": "HD 3.5 uL", "logCFSE": 2.61, "pctMax": 5.3},
      {"sample": "HD 3.5 uL", "logCFSE": 2.66, "pctMax": 1.5},
      {"sample": "HD 3.5 uL", "logCFSE": 2.73, "pctMax": 0.4},
      {"sample": "HD 3.5 uL", "logCFSE": 2.87, "pctMax": 0},
      {"sample": "HD 3.5 uL", "logCFSE": 4.28, "pctMax": 0}
    ]
  },
  "vconcat": [
    {
      "bounds": "flush",
      "spacing": 0,
      "resolve": {"scale": {"x": "independent", "y": "independent"}},
      "hconcat": [
        {"width": 48, "height": 1, "data": {"values": []}, "mark": "point", "encoding": {},
         "title": {"text": "A", "anchor": "start", "frame": "group", "dx": 0, "offset": -9, "fontSize": 20, "fontWeight": "normal", "baseline": "alphabetic"}},
        {
          "width": 188.5,
          "height": 209,
          "data": {"name": "A"},
          "transform": [{"filter": "datum.group == '2C'"}],
          "mark": {"type": "bar", "fill": "#6e6e6e", "stroke": "black", "strokeWidth": 2.5},
          "encoding": {
            "x": {"field": "peptide", "type": "nominal", "sort": null, "scale": {"paddingInner": 0.3, "paddingOuter": 0.49},
              "axis": {"title": "2C T\u00a0 Cells", "titleX": 80, "titleFontSize": 20, "titleFontWeight": "normal", "titlePadding": 22, "labelAngle": -45, "labelFontSize": 15, "labelFontWeight": "bold", "labelAlign": "right", "labelBaseline": "middle", "labelPadding": 4, "tickSize": 5, "tickWidth": 2, "domainWidth": 2}},
            "y": {"field": "fold", "type": "quantitative", "scale": {"domain": [0, 25], "nice": false},
              "axis": {"title": "Fold\u00a0 Expansion", "values": [0, 5, 10, 15, 20, 25], "titleFontSize": 15, "titleFontWeight": "bold", "titlePadding": 10, "labelFontSize": 14, "labelFontWeight": "bold", "labelPadding": 1, "tickSize": 5, "tickWidth": 2, "domainWidth": 2}}
          }
        },
        {
          "width": 188.5,
          "height": 209,
          "data": {"name": "A"},
          "transform": [{"filter": "datum.group == 'PMEL'"}],
          "mark": {"type": "bar", "fill": "white", "stroke": "black", "strokeWidth": 2.5},
          "encoding": {
            "x": {"field": "peptide", "type": "nominal", "sort": null, "scale": {"paddingInner": 0.3, "paddingOuter": 0.49},
              "axis": {"title": "PMEL T\u00a0 Cells", "titleX": 82, "titleFontSize": 20, "titleFontWeight": "normal", "titlePadding": 22, "labelAngle": -45, "labelFontSize": 15, "labelFontWeight": "bold", "labelAlign": "right", "labelBaseline": "middle", "labelPadding": 4, "tickSize": 5, "tickWidth": 2, "domainWidth": 2}},
            "y": {"field": "fold", "type": "quantitative", "scale": {"domain": [0, 25], "nice": false}, "axis": null}
          }
        },
        {"width": 90, "height": 1, "data": {"values": []}, "mark": "point", "encoding": {},
         "title": {"text": "B", "anchor": "start", "frame": "group", "dx": 35, "offset": -9, "fontSize": 20, "fontWeight": "normal", "baseline": "alphabetic"}},
        {
          "width": 313,
          "height": 209,
          "data": {"name": "B"},
          "mark": {"type": "bar", "fill": "#6e6e6e", "stroke": "black", "strokeWidth": 2.5},
          "encoding": {
            "x": {"field": "condition", "type": "nominal", "sort": null, "scale": {"paddingInner": 0.32, "paddingOuter": 0.16},
              "axis": {"title": null, "labelAngle": -45, "labelFontSize": 16, "labelFontWeight": "bold", "labelAlign": "right", "labelBaseline": "middle", "labelPadding": 4, "tickSize": 5, "tickWidth": 2, "domainWidth": 2}},
            "y": {"field": "fold", "type": "quantitative", "scale": {"domain": [0, 13], "nice": false},
              "axis": {"title": "Fold\u00a0 Expansion", "values": [0, 5, 10], "titleFontSize": 16, "titleFontWeight": "bold", "titlePadding": 10, "labelFontSize": 16, "labelFontWeight": "bold", "labelPadding": 1, "tickSize": 5, "tickWidth": 2, "domainWidth": 2}}
          }
        }
      ]
    },
    {
      "spacing": 35,
      "resolve": {"scale": {"x": "independent", "y": "independent", "color": "independent", "strokeDash": "independent"}, "legend": {"color": "independent", "strokeDash": "independent"}},
      "vconcat": [
        {
          "bounds": "flush",
          "spacing": 0,
          "resolve": {"scale": {"x": "independent", "y": "independent", "color": "independent", "strokeDash": "independent"}, "legend": {"color": "independent", "strokeDash": "independent"}},
          "hconcat": [
            {"width": 41, "height": 1, "data": {"values": []}, "mark": "point", "encoding": {},
             "title": {"text": "C", "anchor": "start", "frame": "group", "dx": 0, "offset": 8, "fontSize": 20, "fontWeight": "normal", "baseline": "alphabetic"}},
            {
              "width": 159, "height": 158,
              "view": {"stroke": "black", "strokeWidth": 1},
              "data": {"name": "cLD"},
              "title": {"text": "LD", "fontSize": 18, "fontWeight": "normal", "anchor": "middle", "offset": 10, "baseline": "alphabetic"},
              "mark": {"type": "line", "strokeWidth": 1.1, "interpolate": "monotone", "clip": true},
              "encoding": {
                "x": {"field": "logCFSE", "type": "quantitative", "scale": {"domain": [-0.29, 4.28], "nice": false, "zero": false},
                  "axis": {"title": "CFSE", "titleFontSize": 8, "titleFontWeight": "bold", "titlePadding": 18, "values": [-0.222,-0.155,-0.097,-0.046,0,0.301,0.477,0.602,0.699,0.778,0.845,0.903,0.954,1,1.301,1.477,1.602,1.699,1.778,1.845,1.903,1.954,2,2.301,2.477,2.602,2.699,2.778,2.845,2.903,2.954,3,3.301,3.477,3.602,3.699,3.778,3.845,3.903,3.954,4], "labelExpr": "abs(datum.value - round(datum.value)) < 0.001 ? '10' + ['\u2070','\u00b9','\u00b2','\u00b3','\u2074'][round(datum.value)] : ''", "labelFontSize": 9, "labelPadding": 2, "labelOverlap": false, "labelFlush": false, "labelBound": false, "tickSize": {"condition": {"test": "abs(datum.value - round(datum.value)) < 0.001", "value": 4}, "value": 2}, "tickWidth": 1, "domainWidth": 1}},
                "y": {"field": "pctMax", "type": "quantitative", "scale": {"domain": [0, 100], "nice": false}, "axis": {"values": [0], "title": null, "domain": false, "tickSize": 3, "tickWidth": 1, "labelFontSize": 8, "labelPadding": 2}},
                "color": {"field": "sample", "type": "nominal", "scale": {"domain": ["LD 20 uL", "LD 5 uL", "LD 0.5 uL"], "range": ["#111111", "#111111", "#8c8c8c"]}, "legend": {"title": null, "orient": "none", "legendX": 5, "legendY": 216}},
                "strokeDash": {"field": "sample", "type": "nominal", "scale": {"domain": ["LD 20 uL", "LD 5 uL", "LD 0.5 uL"], "range": [[1, 0], [6, 4], [1, 0]]}, "legend": {"title": null, "orient": "none", "legendX": 5, "legendY": 216}}
              }
            },
            {"width": 38, "height": 1, "data": {"values": []}, "mark": "point", "encoding": {}},
            {
              "width": 159, "height": 158,
              "view": {"stroke": "black", "strokeWidth": 1},
              "data": {"name": "cHD"},
              "title": {"text": "HD", "fontSize": 18, "fontWeight": "normal", "anchor": "middle", "offset": 10, "baseline": "alphabetic"},
              "mark": {"type": "line", "strokeWidth": 1.1, "interpolate": "monotone", "clip": true},
              "encoding": {
                "x": {"field": "logCFSE", "type": "quantitative", "scale": {"domain": [-0.29, 4.28], "nice": false, "zero": false},
                  "axis": {"title": "CFSE", "titleFontSize": 8, "titleFontWeight": "bold", "titlePadding": 18, "values": [-0.222,-0.155,-0.097,-0.046,0,0.301,0.477,0.602,0.699,0.778,0.845,0.903,0.954,1,1.301,1.477,1.602,1.699,1.778,1.845,1.903,1.954,2,2.301,2.477,2.602,2.699,2.778,2.845,2.903,2.954,3,3.301,3.477,3.602,3.699,3.778,3.845,3.903,3.954,4], "labelExpr": "abs(datum.value - round(datum.value)) < 0.001 ? '10' + ['\u2070','\u00b9','\u00b2','\u00b3','\u2074'][round(datum.value)] : ''", "labelFontSize": 9, "labelPadding": 2, "labelOverlap": false, "labelFlush": false, "labelBound": false, "tickSize": {"condition": {"test": "abs(datum.value - round(datum.value)) < 0.001", "value": 4}, "value": 2}, "tickWidth": 1, "domainWidth": 1}},
                "y": {"field": "pctMax", "type": "quantitative", "scale": {"domain": [0, 100], "nice": false}, "axis": {"values": [0], "title": null, "domain": false, "tickSize": 3, "tickWidth": 1, "labelFontSize": 8, "labelPadding": 2}},
                "color": {"field": "sample", "type": "nominal", "scale": {"domain": ["HD 20 uL", "HD 5 uL", "HD 0.5 uL"], "range": ["#111111", "#111111", "#8c8c8c"]}, "legend": {"title": null, "orient": "none", "legendX": 5, "legendY": 216}},
                "strokeDash": {"field": "sample", "type": "nominal", "scale": {"domain": ["HD 20 uL", "HD 5 uL", "HD 0.5 uL"], "range": [[1, 0], [6, 4], [1, 0]]}, "legend": {"title": null, "orient": "none", "legendX": 5, "legendY": 216}}
              }
            },
            {"width": 116, "height": 1, "data": {"values": []}, "mark": "point", "encoding": {},
             "title": {"text": "D", "anchor": "start", "frame": "group", "dx": 56, "offset": 3, "fontSize": 20, "fontWeight": "normal", "baseline": "alphabetic"}},
            {
              "width": 281,
              "height": 194,
              "data": {"name": "D"},
              "title": {"text": "CD8+", "fontSize": 17, "fontWeight": "bold", "anchor": "middle", "dx": -13, "offset": 0, "baseline": "alphabetic"},
              "mark": {"type": "bar", "fill": "#6e6e6e", "stroke": "black", "strokeWidth": 2.5},
              "encoding": {
                "x": {"field": "dose", "type": "nominal", "sort": null, "scale": {"paddingInner": 0.32, "paddingOuter": 0.16},
                  "axis": {"title": null, "labelAngle": -45, "labelFontSize": 15, "labelFontWeight": "bold", "labelAlign": "right", "labelBaseline": "middle", "labelPadding": 4, "tickSize": 5, "tickWidth": 2, "domainWidth": 2}},
                "y": {"field": "fold", "type": "quantitative", "scale": {"domain": [0, 32.5], "nice": false},
                  "axis": {"title": "Fold\u00a0 Expansion", "values": [0, 10, 20, 30], "titleFontSize": 15, "titleFontWeight": "bold", "titlePadding": 10, "labelFontSize": 14, "labelFontWeight": "bold", "labelPadding": 1, "tickSize": 5, "tickWidth": 2, "domainWidth": 2}}
              }
            }
          ]
        },
        {
          "bounds": "flush",
          "spacing": 0,
          "resolve": {"scale": {"x": "independent", "y": "independent", "color": "independent", "strokeDash": "independent"}, "legend": {"color": "independent", "strokeDash": "independent"}},
          "hconcat": [
            {"width": 41, "height": 1, "data": {"values": []}, "mark": "point", "encoding": {},
             "title": {"text": "E", "anchor": "start", "frame": "group", "dx": 1, "offset": 3, "fontSize": 20, "fontWeight": "normal", "baseline": "alphabetic"}},
            {
              "width": 159, "height": 158,
              "view": {"stroke": "black", "strokeWidth": 1},
              "data": {"name": "eLD"},
              "title": {"text": "LD", "fontSize": 18, "fontWeight": "normal", "anchor": "middle", "offset": 3, "baseline": "alphabetic"},
              "mark": {"type": "line", "strokeWidth": 1.1, "interpolate": "monotone", "clip": true},
              "encoding": {
                "x": {"field": "logCFSE", "type": "quantitative", "scale": {"domain": [-0.29, 4.28], "nice": false, "zero": false},
                  "axis": {"title": "CFSE", "titleFontSize": 8, "titleFontWeight": "bold", "titlePadding": 18, "values": [-0.222,-0.155,-0.097,-0.046,0,0.301,0.477,0.602,0.699,0.778,0.845,0.903,0.954,1,1.301,1.477,1.602,1.699,1.778,1.845,1.903,1.954,2,2.301,2.477,2.602,2.699,2.778,2.845,2.903,2.954,3,3.301,3.477,3.602,3.699,3.778,3.845,3.903,3.954,4], "labelExpr": "abs(datum.value - round(datum.value)) < 0.001 ? '10' + ['\u2070','\u00b9','\u00b2','\u00b3','\u2074'][round(datum.value)] : ''", "labelFontSize": 9, "labelPadding": 2, "labelOverlap": false, "labelFlush": false, "labelBound": false, "tickSize": {"condition": {"test": "abs(datum.value - round(datum.value)) < 0.001", "value": 4}, "value": 2}, "tickWidth": 1, "domainWidth": 1}},
                "y": {"field": "pctMax", "type": "quantitative", "scale": {"domain": [0, 100], "nice": false}, "axis": {"values": [0], "title": null, "domain": false, "tickSize": 3, "tickWidth": 1, "labelFontSize": 8, "labelPadding": 2}},
                "color": {"field": "sample", "type": "nominal", "scale": {"domain": ["LD 20 uL", "LD 5 uL", "LD 0.5 uL"], "range": ["#111111", "#111111", "#8c8c8c"]}, "legend": {"title": null, "orient": "none", "legendX": 5, "legendY": 216}},
                "strokeDash": {"field": "sample", "type": "nominal", "scale": {"domain": ["LD 20 uL", "LD 5 uL", "LD 0.5 uL"], "range": [[1, 0], [6, 4], [1, 0]]}, "legend": {"title": null, "orient": "none", "legendX": 5, "legendY": 216}}
              }
            },
            {"width": 38, "height": 1, "data": {"values": []}, "mark": "point", "encoding": {}},
            {
              "width": 159, "height": 158,
              "view": {"stroke": "black", "strokeWidth": 1},
              "data": {"name": "eHD"},
              "title": {"text": "HD", "fontSize": 18, "fontWeight": "normal", "anchor": "middle", "offset": 3, "baseline": "alphabetic"},
              "mark": {"type": "line", "strokeWidth": 1.1, "interpolate": "monotone", "clip": true},
              "encoding": {
                "x": {"field": "logCFSE", "type": "quantitative", "scale": {"domain": [-0.29, 4.28], "nice": false, "zero": false},
                  "axis": {"title": "CFSE", "titleFontSize": 8, "titleFontWeight": "bold", "titlePadding": 18, "values": [-0.222,-0.155,-0.097,-0.046,0,0.301,0.477,0.602,0.699,0.778,0.845,0.903,0.954,1,1.301,1.477,1.602,1.699,1.778,1.845,1.903,1.954,2,2.301,2.477,2.602,2.699,2.778,2.845,2.903,2.954,3,3.301,3.477,3.602,3.699,3.778,3.845,3.903,3.954,4], "labelExpr": "abs(datum.value - round(datum.value)) < 0.001 ? '10' + ['\u2070','\u00b9','\u00b2','\u00b3','\u2074'][round(datum.value)] : ''", "labelFontSize": 9, "labelPadding": 2, "labelOverlap": false, "labelFlush": false, "labelBound": false, "tickSize": {"condition": {"test": "abs(datum.value - round(datum.value)) < 0.001", "value": 4}, "value": 2}, "tickWidth": 1, "domainWidth": 1}},
                "y": {"field": "pctMax", "type": "quantitative", "scale": {"domain": [0, 100], "nice": false}, "axis": {"values": [0], "title": null, "domain": false, "tickSize": 3, "tickWidth": 1, "labelFontSize": 8, "labelPadding": 2}},
                "color": {"field": "sample", "type": "nominal", "scale": {"domain": ["HD 3.5 uL", "HD 0.88 uL", "HD 0.09 uL"], "range": ["#111111", "#111111", "#8c8c8c"]}, "legend": {"title": null, "orient": "none", "legendX": 5, "legendY": 216}},
                "strokeDash": {"field": "sample", "type": "nominal", "scale": {"domain": ["HD 3.5 uL", "HD 0.88 uL", "HD 0.09 uL"], "range": [[1, 0], [6, 4], [1, 0]]}, "legend": {"title": null, "orient": "none", "legendX": 5, "legendY": 216}}
              }
            },
            {"width": 116, "height": 1, "data": {"values": []}, "mark": "point", "encoding": {},
             "title": {"text": "F", "anchor": "start", "frame": "group", "dx": 58, "offset": -4, "fontSize": 20, "fontWeight": "normal", "baseline": "alphabetic"}},
            {
              "width": 281,
              "height": 188,
              "data": {"name": "F"},
              "title": {"text": "CD8+", "fontSize": 17, "fontWeight": "bold", "anchor": "middle", "dx": -14, "offset": 0, "baseline": "alphabetic"},
              "mark": {"type": "bar", "fill": "#6e6e6e", "stroke": "black", "strokeWidth": 2.5},
              "encoding": {
                "x": {"field": "dose", "type": "nominal", "sort": null, "scale": {"paddingInner": 0.32, "paddingOuter": 0.16},
                  "axis": {"title": null, "labelAngle": -45, "labelFontSize": 15, "labelFontWeight": "bold", "labelAlign": "right", "labelBaseline": "middle", "labelPadding": 4, "tickSize": 5, "tickWidth": 2, "domainWidth": 2}},
                "y": {"field": "fold", "type": "quantitative", "scale": {"domain": [0, 30], "nice": false},
                  "axis": {"title": "Fold\u00a0 Expansion", "values": [0, 10, 20, 30], "titleFontSize": 15, "titleFontWeight": "bold", "titlePadding": 10, "labelFontSize": 14, "labelFontWeight": "bold", "labelPadding": 1, "tickSize": 5, "tickWidth": 2, "domainWidth": 2}}
              }
            }
          ]
        }
      ]
    }
  ]
}
